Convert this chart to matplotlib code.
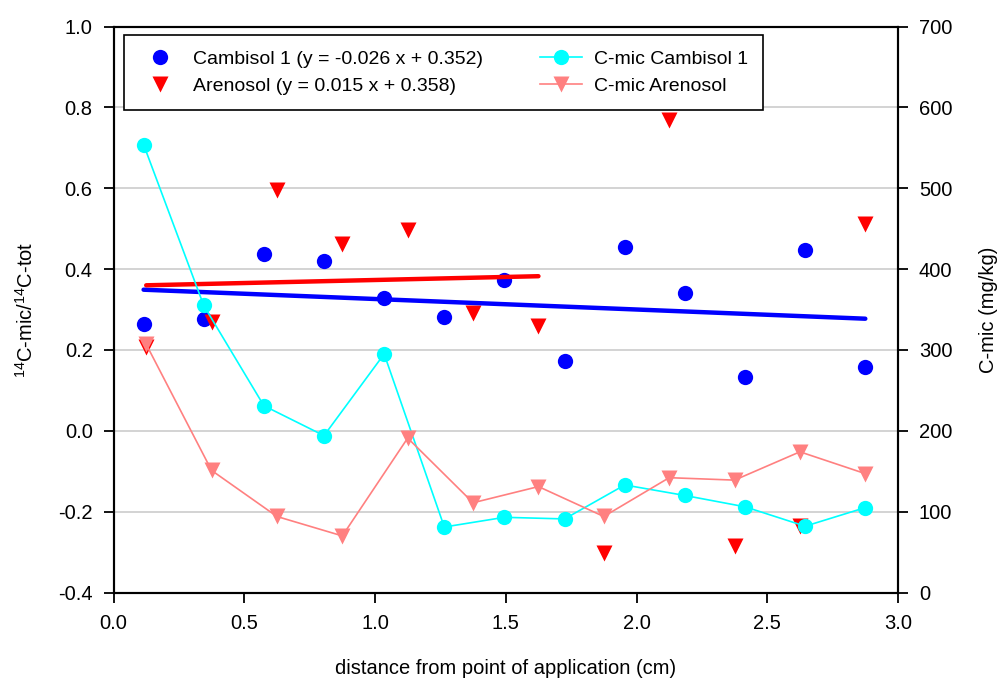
import matplotlib.pyplot as plt
import numpy as np

plt.rcParams['font.family'] = ['Liberation Sans', 'DejaVu Sans']
plt.rcParams['axes.unicode_minus'] = False

# Cambisol 1: 14C-mic/14C-tot and C-mic
x_camb = [0.115, 0.345, 0.575, 0.805, 1.035, 1.265, 1.495,
          1.725, 1.955, 2.185, 2.415, 2.645, 2.875]
ratio_camb = [0.264, 0.276, 0.437, 0.420, 0.329, 0.281, 0.373,
              0.172, 0.455, 0.342, 0.132, 0.446, 0.157]
cmic_camb = [554, 355, 231, 194, 295, 81, 93,
             91, 133, 120, 106, 82, 105]

# Arenosol
x_aren = [0.125, 0.375, 0.625, 0.875, 1.125, 1.375,
          1.625, 1.875, 2.125, 2.375, 2.625, 2.875]
ratio_aren = [0.207, 0.269, 0.596, 0.463, 0.497, 0.291,
              0.259, -0.303, 0.769, -0.285, -0.235, 0.511]
cmic_aren = [307, 151, 94, 70, 191, 111,
             131, 94, 142, 139, 174, 147]

# regression lines (slope, intercept) as given in the legend
fit_camb = (-0.026, 0.352)
fit_aren = (0.015, 0.358)

fig = plt.figure(figsize=(10.01, 6.78), dpi=100)
ax = fig.add_axes([0.1134, 0.1261, 0.7837, 0.8348])
ax2 = ax.twinx()

# scatter of the ratios (left axis)
h1, = ax.plot(x_camb, ratio_camb, 'o', color='#0000ff', ms=11,
              mec='none', label='Cambisol 1 (y = -0.026 x + 0.352)')
h2, = ax.plot(x_aren, ratio_aren, 'v', color='#ff0000', ms=11,
              mec='none', label='Arenosol (y = 0.015 x + 0.358)')

# trend lines
xc = np.array([x_camb[0], x_camb[-1]])
ax.plot(xc, fit_camb[0] * xc + fit_camb[1], color='#0000ff', lw=3.2,
        solid_capstyle='round')
xa = np.array([x_aren[0], x_aren[6]])
ax.plot(xa, fit_aren[0] * xa + fit_aren[1], color='#ff0000', lw=3.2,
        solid_capstyle='round')

# C-mic (right axis)
h3, = ax2.plot(x_camb, cmic_camb, '-o', color='#00ffff', ms=11,
               mec='none', lw=1.2, label='C-mic Cambisol 1')
h4, = ax2.plot(x_aren, cmic_aren, '-v', color='#ff8080', ms=11,
               mec='none', lw=1.2, label='C-mic Arenosol')

ax.set_xlim(0, 3.0)
ax.set_ylim(-0.4, 1.0)
ax2.set_ylim(0, 700)
ax.set_xticks(np.arange(0, 3.01, 0.5))
ax.set_yticks(np.arange(-0.4, 1.01, 0.2))
ax2.set_yticks(np.arange(0, 701, 100))
ax.xaxis.set_major_formatter('{x:.1f}')
ax.yaxis.set_major_formatter('{x:.1f}')

ax.grid(axis='y', color='#d0d0d0', lw=1.3)
ax.set_axisbelow(True)

for a in (ax, ax2):
    for s in a.spines.values():
        s.set_linewidth(1.5)
    a.tick_params(direction='out', length=7, width=1.3, labelsize=14.5, pad=8)
ax.tick_params(axis='x', pad=8.7)

ax.set_xlabel('distance from point of application (cm)', fontsize=14.5,
              labelpad=18.5)
ax.set_ylabel(r'$\mathregular{^{14}}$C-mic/$\mathregular{^{14}}$C-tot',
              fontsize=14.5, labelpad=15.5)
ax2.set_ylabel('C-mic (mg/kg)', fontsize=14.5, labelpad=19)

leg = ax2.legend(handles=[h1, h2, h3, h4], ncol=2, loc='upper left',
                 bbox_to_anchor=(0.013, 0.985), fontsize=14, frameon=True,
                 fancybox=False, framealpha=1, edgecolor='black',
                 borderpad=0.78, labelspacing=0.48, handlelength=2.19,
                 handletextpad=0.61, columnspacing=2.9, borderaxespad=0)
leg.get_frame().set_linewidth(1.2)

fig.savefig('out.png', dpi=100)
